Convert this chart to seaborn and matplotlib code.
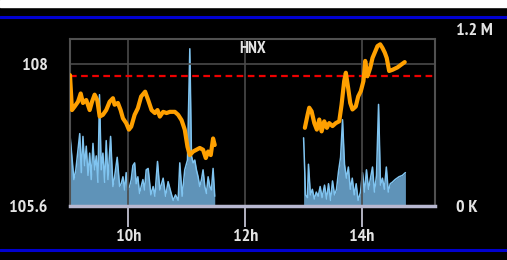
import numpy as np
import pandas as pd
import matplotlib
matplotlib.use("Agg")
import matplotlib.pyplot as plt
import seaborn as sns
from matplotlib.lines import Line2D
from matplotlib.patches import Rectangle

# ---------------- data ----------------
title = "HNX"
ref_price = 107.8

am_price_min = [0, 2, 4.8, 8.2, 11, 13.3, 16.7, 20.2, 22.6, 25.3, 28, 30.5, 33.8, 37.2,
                40.7, 44.1, 45.8, 49.2, 52, 54.4, 57.7, 60.5, 62.9, 66.4, 69.7, 73.1,
                77.2, 80.3, 83.8, 87.2, 89.9, 92.3, 95.7, 99.2, 102.6, 107.7, 111.1,
                114.6, 117.9, 120.7, 123.1, 126.5, 129.9, 133.3, 136.7, 139.5, 141.9,
                144.6, 147, 148.7]
am_price = [107.81, 107.22, 107.28, 107.36, 107.50, 107.34, 107.39, 107.22, 107.36,
            107.48, 107.39, 107.11, 107.14, 107.22, 107.36, 107.42, 107.31, 107.34,
            107.22, 107.08, 107.00, 106.89, 106.94, 107.14, 107.25, 107.45, 107.53,
            107.39, 107.22, 107.17, 107.22, 107.11, 107.19, 107.17, 107.19, 107.19,
            107.14, 107.05, 106.89, 106.60, 106.46, 106.52, 106.55, 106.58, 106.55,
            106.41, 106.52, 106.46, 106.74, 106.63]

pm_price_min = [241.3, 244.1, 245.8, 248.2, 251, 253.6, 256.1, 258.5, 261.2, 263.9,
                266.3, 269.7, 273.1, 276.6, 279, 281.7, 283.4, 285.8, 287.9, 290.2,
                293.6, 296.1, 298.8, 301.5, 303.3, 305.6, 308.4, 310.8, 313.1, 315.9,
                318.7, 321, 323.4, 325.4, 327.9, 331.3, 336.4, 340.5, 343.9]
pm_price = [106.92, 107.14, 107.26, 107.20, 107.00, 106.89, 107.06, 106.86, 107.03,
            106.92, 107.00, 106.95, 107.00, 107.03, 107.31, 107.71, 107.85, 107.59,
            107.34, 107.23, 107.28, 107.45, 107.54, 107.71, 108.05, 107.79, 107.93,
            108.10, 108.19, 108.30, 108.33, 108.27, 108.19, 108.10, 107.88, 107.90,
            107.94, 107.99, 108.03]

am_vol_min = [0, 4, 6, 10, 11.6, 13.3, 15, 16.7, 18.5, 20.2, 21.8, 23.6, 25.3, 27,
              28.7, 30.3, 32.1, 33.8, 35.6, 37.2, 39, 41.7, 44.1, 45.8, 48.5, 51,
              52.6, 54.4, 56.1, 57.7, 59.5, 61.2, 62.9, 64.6, 66.4, 68, 69.7, 71.5,
              73.1, 74.9, 76.6, 78.3, 80.3, 83.1, 85.4, 87.2, 89.9, 92.3, 95.7, 98.2,
              100.8, 103.6, 106, 108.4, 111.1, 112.8, 115.2, 117.9, 120.7, 123.1,
              124.8, 126.5, 128.2, 129.9, 131.6, 133.3, 135.1, 136.7, 138.5, 140.2,
              141.9, 143.6, 145.3, 147, 148.7]
am_vol_k = [510, 190, 260, 520, 240, 500, 290, 430, 220, 380, 190, 450, 260, 360,
            170, 800, 260, 380, 170, 470, 190, 500, 140, 210, 350, 140, 160, 210,
            115, 240, 115, 140, 190, 290, 310, 160, 210, 90, 140, 190, 115, 260,
            270, 80, 140, 70, 320, 115, 200, 70, 175, 100, 40, 80, 40, 310, 70,
            260, 330, 1130, 360, 310, 330, 260, 210, 140, 190, 260, 140, 90, 210,
            140, 115, 270, 70]

pm_vol_min = [240, 242, 244, 245, 247, 249, 251, 253, 255, 257, 259, 261.5, 263.6,
              265.6, 267.7, 269.7, 271.8, 273.8, 275.9, 278, 280, 282, 284, 286, 288,
              290, 292, 294, 296, 298.5, 300.5, 302.6, 304.6, 306.7, 308.7, 310.8,
              312.8, 314.9, 317, 319, 321, 323, 325, 327, 329, 331, 334, 338, 341.5,
              344.6]
pm_vol_k = [490, 80, 60, 300, 80, 120, 50, 100, 70, 140, 60, 150, 50, 160, 40, 180,
            80, 120, 250, 350, 620, 300, 200, 280, 120, 200, 80, 160, 40, 100, 240,
            100, 260, 120, 200, 280, 100, 220, 730, 150, 200, 120, 280, 100, 160,
            170, 190, 210, 220, 240]

x_ticks_h = [10, 12, 14]
x_tick_labels = ["10h", "12h", "14h"]
price_ticks = [105.6, 108]
price_tick_labels = ["105.6", "108"]
vol_ticks_k = [0, 1200]
vol_tick_labels = ["0 K", "1.2 M"]

# ---------------- frames ----------------
def to_hours(mins):
    return [9 + m / 60 for m in mins]

am_p = pd.DataFrame({"t": to_hours(am_price_min), "price": am_price})
pm_p = pd.DataFrame({"t": to_hours(pm_price_min), "price": pm_price})
am_v = pd.DataFrame({"t": to_hours(am_vol_min), "vol": am_vol_k})
pm_v = pd.DataFrame({"t": to_hours(pm_vol_min), "vol": pm_vol_k})

# ---------------- style ----------------
sns.set_style("dark")
plt.rcParams["font.family"] = ["PT Sans Narrow", "DejaVu Sans"]
plt.rcParams["font.weight"] = "bold"
txt = "#e4e4e4"
fs = 13

W, H = 507, 260
fig = plt.figure(figsize=(W / 100, H / 100), dpi=100, facecolor="black")
fig.add_artist(Rectangle((0, 1 - 7 / H), 1, 7 / H, transform=fig.transFigure,
                         color="white", zorder=0))
for yy in (17, 249.5):
    fig.add_artist(Line2D([0, 1], [1 - yy / H] * 2, transform=fig.transFigure,
                          color="#0000d0", lw=2.2))

ax = fig.add_axes([70 / W, 1 - 206 / H, 365 / W, 167 / H])
ax.set_facecolor("black")
ax2 = ax.twinx()

# volume (right axis)
for d in (am_v, pm_v):
    ax2.fill_between(d["t"], 0, d["vol"], color="#5f93b8", lw=0, zorder=1)
    sns.lineplot(data=d, x="t", y="vol", ax=ax2, color="#80c4f0", lw=1.1,
                 estimator=None, sort=False, zorder=2)
ax2.set_ylim(0, 1200)
ax2.set_yticks(vol_ticks_k)
ax2.set_yticklabels(vol_tick_labels)
ax2.tick_params(axis="y", length=0, pad=15, labelcolor=txt, labelsize=fs)
ax2.get_yticklabels()[1].set_va("bottom")
ax2.set_ylabel("")
ax2.grid(False)
for s in ax2.spines.values():
    s.set_visible(False)

# price (left axis) on top
ax.set_zorder(ax2.get_zorder() + 1)
ax.patch.set_visible(False)
for d in (am_p, pm_p):
    sns.lineplot(data=d, x="t", y="price", ax=ax, color="#ffa000", lw=3.0,
                 estimator=None, sort=False, zorder=4)
ax.axhline(ref_price, color="#ee0000", lw=1.6, ls=(0, (3, 2)), zorder=3)
ax.set_xlim(9, 15.25)
ax.set_ylim(105.6, 108.42)
ax.set_xticks(x_ticks_h)
ax.set_xticklabels(x_tick_labels)
ax.set_yticks(price_ticks)
ax.set_yticklabels(price_tick_labels)
ax.set_xlabel("")
ax.set_ylabel("")
ax.tick_params(axis="x", length=15, width=1.3, color="#c0c0d0", pad=1.5,
               labelcolor=txt, labelsize=fs, bottom=True)
ax.tick_params(axis="y", length=0, pad=16, labelcolor=txt, labelsize=fs)
ax.grid(True, color="#4a4a4a", lw=1.2)
for k in ("top", "left", "right"):
    ax.spines[k].set_color("#505050")
    ax.spines[k].set_linewidth(1.5)
    ax.spines[k].set_visible(True)
ax.spines["bottom"].set_color("#b8b8d0")
ax.spines["bottom"].set_linewidth(2.5)
ax.spines["bottom"].set_visible(True)

ax.text(0.5, 0.943, title, transform=ax.transAxes, ha="center", va="center",
        fontsize=12, color=txt, fontweight="bold")

fig.savefig("out.png", dpi=100, facecolor="black")
